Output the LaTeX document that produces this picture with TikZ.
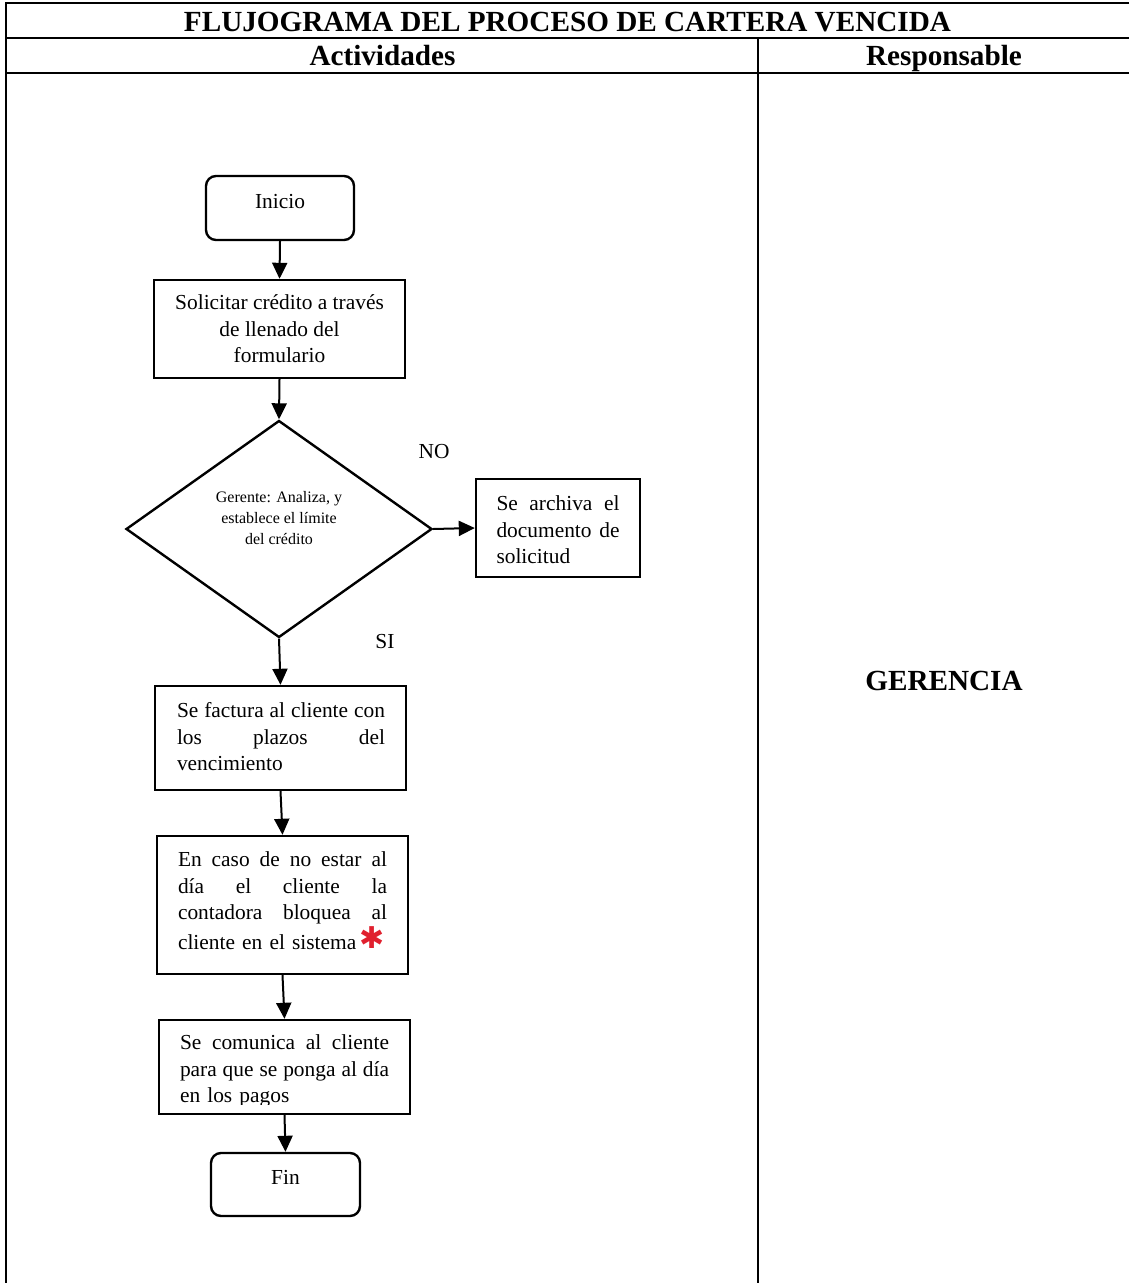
\documentclass[tikz,border=0pt]{standalone}
\usepackage{fontspec}
\setmainfont{Liberation Serif}
\newfontfamily\symfont{DejaVu Sans}
\usetikzlibrary{arrows.meta,shapes.geometric}
\definecolor{starred}{HTML}{E0202E}

% one justified line of a fixed width
\newcommand\jline[2]{\makebox[#1][s]{\spaceskip=.25em plus 1fil minus .1em\relax #2}}

\tikzset{
  frame/.style={line width=1pt},
  stepbox/.style={draw, line width=1.2pt, inner sep=0pt,
    font=\fontsize{10.7}{13.25}\selectfont},
  term/.style={stepbox, rounded corners=5pt},
  decision/.style={draw, diamond, line width=1.2pt, inner sep=0pt},
  flow/.style={line width=1pt, -{Triangle[length=8pt,width=7.5pt]}},
  head/.style={font=\fontsize{14.6}{16}\selectfont\bfseries, inner sep=0pt, anchor=base},
  lbl/.style={font=\fontsize{10.7}{13}\selectfont, inner sep=0pt},
  small/.style={font=\fontsize{8}{10.5}\selectfont, inner sep=0pt, align=center},
  boxtext/.style={inner sep=0pt, font=\fontsize{10.7}{13.25}\selectfont, align=left, text width=#1},
}

\begin{document}
\begin{tikzpicture}[x=0.5pt,y=-0.5pt]
\useasboundingbox (0,0) rectangle (1129,1283);

% table frame
\draw[frame] (1129,3) -- (6,3) -- (6,1283);
\draw[frame] (6,38) -- (1129,38);
\draw[frame] (6,73) -- (1129,73);
\draw[frame] (758,38) -- (758,1283);

% headings
\node[head] (title) at (567.5,31.5) {FLUJOGRAMA DEL PROCESO DE CARTERA VENCIDA};
\node[head] (colact) at (382.5,66) {Actividades};
\node[head] (colresp) at (944,66) {Responsable};
\node[head] (resp) at (944,690) {GERENCIA};

% flow steps
\node[term, minimum width=74pt, minimum height=32pt, text depth=6.5pt] (ini) at (280,208) {Inicio};
\node[stepbox, minimum width=125.5pt, minimum height=49pt, align=center] (sol) at (279.5,329)
  {Solicitar crédito a través\\de llenado del\\formulario};
\node[decision, minimum width=153pt, minimum height=108.5pt] (dec) at (279,529) {};
\node[small] (dectxt) at (279,518) {Gerente: Analiza, y\\establece el límite\\del crédito};

\node[stepbox, minimum width=82pt, minimum height=49pt] (arch) at (558,528) {};
\node[boxtext=61.5pt] (archtxt) at (558,530)
  {\jline{61.5pt}{Se archiva el}\\\jline{61.5pt}{documento de}\\solicitud};

\node[stepbox, minimum width=125.5pt, minimum height=52pt] (fact) at (280.5,738) {};
\node[boxtext=104pt] (facttxt) at (281,737)
  {\jline{104pt}{Se factura al cliente con}\\\jline{104pt}{los plazos del}\\vencimiento};

\node[stepbox, minimum width=125.5pt, minimum height=69pt] (caso) at (282.5,905) {};
\node[boxtext=104.5pt] (casotxt) at (282.5,901)
  {\jline{104.5pt}{En caso de no estar al}\\\jline{104.5pt}{día el cliente la}\\\jline{104.5pt}{contadora bloquea al}\\\makebox[104.5pt][l]{cliente en el sistema\hspace{1.8pt}\raisebox{0.8pt}{\symfont\fontsize{15}{15}\selectfont\color{starred}✱}}};

\node[stepbox, minimum width=125.5pt, minimum height=47pt] (com) at (284.5,1067) {};
\begin{scope}
  \clip (159,1020) rectangle (410,1104);
  \node[boxtext=104.5pt] (comtxt) at (284.5,1071)
    {\jline{104.5pt}{Se comunica al cliente}\\\jline{104.5pt}{para que se ponga al día}\\en los pagos};
\end{scope}
\node[term, minimum width=74.5pt, minimum height=31.5pt, text depth=7pt] (fin) at (285.5,1184.5) {Fin};

% branch labels
\node[lbl] (no) at (434,452) {NO};
\node[lbl] (si) at (385,642) {SI};

% connectors
\draw[flow] (ini.south) -- (sol.north);
\draw[flow] (sol.south) -- (dec.north);
\draw[flow] (dec.east) -- (arch.west);
\draw[flow] (dec.south) -- (fact.north);
\draw[flow] (fact.south) -- (caso.north);
\draw[flow] (caso.south) -- (com.north);
\draw[flow] (com.south) -- (fin.north);
\end{tikzpicture}
\end{document}
